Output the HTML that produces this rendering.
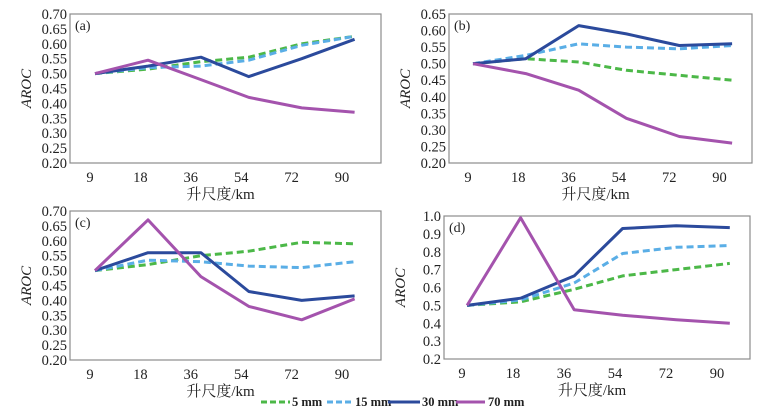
<!DOCTYPE html>
<html><head><meta charset="utf-8"><style>
html,body{margin:0;padding:0;background:#fff;}
svg{display:block;font-family:"Liberation Serif","Noto Serif CJK SC",serif;}
</style></head><body>
<svg id="chart" width="769" height="413" viewBox="0 0 769 413" xmlns="http://www.w3.org/2000/svg"></svg>
<script>
const categories = ["9","18","36","54","72","90"];
const seriesNames = ["5 mm","15 mm","30 mm","70 mm"];
const pointPos = [0.1,1.15,2.2,3.15,4.2,5.25];
const a5 = [0.50,0.515,0.54,0.555,0.60,0.625];
const a15 = [0.50,0.52,0.525,0.545,0.595,0.625];
const a30 = [0.50,0.525,0.555,0.49,0.55,0.615];
const a70 = [0.50,0.545,0.48,0.42,0.385,0.37];
const b5 = [0.50,0.515,0.505,0.48,0.465,0.45];
const b15 = [0.50,0.525,0.56,0.55,0.545,0.555];
const b30 = [0.50,0.515,0.615,0.59,0.555,0.56];
const b70 = [0.50,0.47,0.42,0.335,0.28,0.26];
const c5 = [0.50,0.52,0.55,0.565,0.595,0.59];
const c15 = [0.50,0.535,0.53,0.515,0.51,0.53];
const c30 = [0.50,0.56,0.56,0.43,0.40,0.415];
const c70 = [0.50,0.67,0.48,0.38,0.335,0.405];
const d5 = [0.50,0.52,0.59,0.665,0.70,0.735];
const d15 = [0.50,0.53,0.625,0.79,0.825,0.835];
const d30 = [0.50,0.54,0.665,0.93,0.945,0.935];
const d70 = [0.50,0.99,0.475,0.445,0.42,0.40];
const ticksA = ["0.20","0.25","0.30","0.35","0.40","0.45","0.50","0.55","0.60","0.65","0.70"];
const ticksB = ["0.20","0.25","0.30","0.35","0.40","0.45","0.50","0.55","0.60","0.65"];
const ticksD = ["0.2","0.3","0.4","0.5","0.6","0.7","0.8","0.9","1.0"];

const colors=["#4cb848","#5aaee6","#2b4a9c","#a453ad"];
const dashes=["7,4","7,4",null,null];
const NS="http://www.w3.org/2000/svg";
const svg=document.getElementById('chart');
function mk(tag,attrs,parent){const e=document.createElementNS(NS,tag);for(const k in attrs)e.setAttribute(k,attrs[k]);(parent||svg).appendChild(e);return e;}

const panels=[
 {id:'a',L:70,R:381,T:14,B:163,x0:90,dx:50.4,ticks:ticksA,data:[a5,a15,a30,a70]},
 {id:'b',L:449,R:752,T:14,B:163,x0:468,dx:50.3,ticks:ticksB,data:[b5,b15,b30,b70]},
 {id:'c',L:70,R:381,T:211,B:360,x0:90,dx:50.4,ticks:ticksA,data:[c5,c15,c30,c70]},
 {id:'d',L:444,R:750,T:216,B:359,x0:462,dx:51,ticks:ticksD,data:[d5,d15,d30,d70]}
];
panels.forEach(p=>{
 const g=mk('g',{});
 
 
 const ymin=parseFloat(p.ticks[0]),ymax=parseFloat(p.ticks[p.ticks.length-1]);
 const y=v=>p.B-(v-ymin)/(ymax-ymin)*(p.B-p.T);
 const x=i=>p.x0+i*p.dx;
 const fr=mk('rect',{x:p.L,y:p.T,width:p.R-p.L,height:p.B-p.T,fill:'none',stroke:'#8c8c8c','stroke-width':1.2},g);
 
 
 p.ticks.forEach(t=>{
  const tx=mk('text',{x:p.L-3,y:y(parseFloat(t))+5,'text-anchor':'end','font-size':14.5,fill:'#222'},g);
  tx.textContent=t;
  
  
 });
 categories.forEach((c,i)=>{
  const tx=mk('text',{x:x(i),y:p.B+19,'text-anchor':'middle','font-size':14.5,fill:'#222'},g);
  tx.textContent=c;
  
  
 });
 const xl=mk('text',{x:(p.L+p.R)/2-5,y:p.B+36,'text-anchor':'middle','font-size':15,fill:'#222'},g);
 xl.textContent='升尺度/km';
 
 
 const yl=mk('text',{x:0,y:0,transform:`translate(${p.L-39},${(p.T+p.B)/2}) rotate(-90)`,'text-anchor':'middle','font-size':15,'font-style':'italic',fill:'#222'},g);
 yl.textContent='AROC';
 
 
 const pl=mk('text',{x:p.L+5,y:p.T+16,'font-size':14,fill:'#222'},g);
 pl.textContent='('+p.id+')';
 
 
 p.data.forEach((arr,si)=>{
  const pts=arr.map((v,i)=>x(pointPos[i]).toFixed(1)+','+y(v).toFixed(1)).join(' ');
  const a={points:pts,fill:'none',stroke:colors[si],'stroke-width':3,'stroke-linejoin':'round'};
  if(dashes[si])a['stroke-dasharray']=dashes[si];
  const ln=mk('polyline',a,g);
  
  
 });
});
const lg=mk('g',{});


const legX=[[261,290,292],[327,353,355],[388,420,422],[456,485,488]];
seriesNames.forEach((n,i)=>{
 const a={x1:legX[i][0],x2:legX[i][1],y1:402,y2:402,stroke:colors[i],'stroke-width':3};
 if(dashes[i])a['stroke-dasharray']='6,3';
 const l=mk('line',a,lg);
 
 
 const t=mk('text',{x:legX[i][2],y:406,'font-size':12.5,'font-weight':'bold',fill:'#222'},lg);
 t.textContent=n;
 
 
});
</script>
</body></html>
